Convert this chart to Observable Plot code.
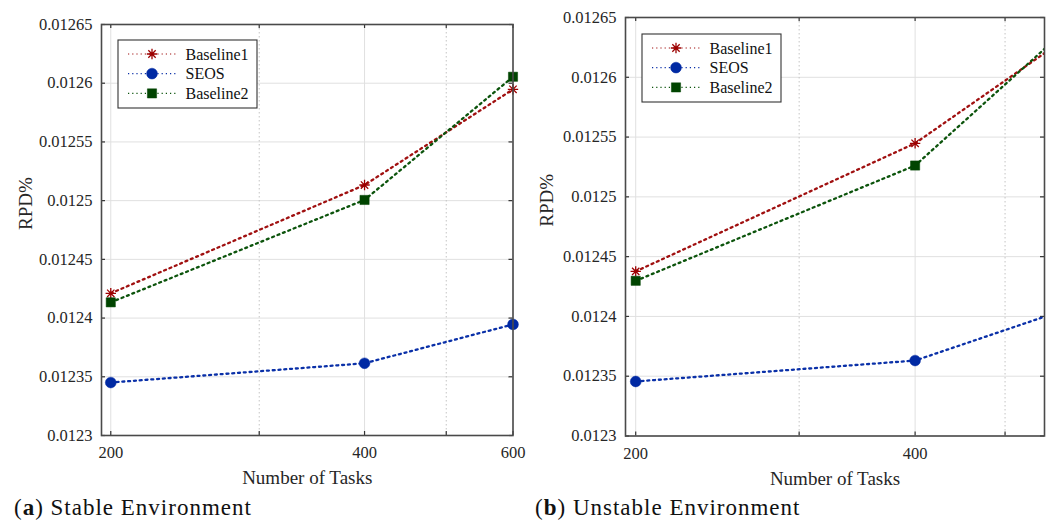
<!DOCTYPE html>
<html><head><meta charset="utf-8">
<script src="https://cdn.jsdelivr.net/npm/d3@7"></script>
<script src="https://cdn.jsdelivr.net/npm/@observablehq/plot@0.6"></script>
<style>
body{margin:0;background:#fff;}
#wrap{position:relative;width:1054px;height:524px;overflow:hidden;font-family:"Liberation Serif","Times New Roman",serif;background:#fff;}
.panel{position:absolute;top:0;}
.legend{position:absolute;}
.caption{position:absolute;font-size:23px;letter-spacing:1px;color:#111;line-height:23px;white-space:nowrap;}
</style></head>
<body><div id="wrap"></div>
<script>
// ---- data ----
const tasks = [200, 400, 600];
const seriesNames = ["Baseline1", "SEOS", "Baseline2"];
const stableBaseline1 = [0.0124211, 0.0125133, 0.0125948];
const stableSEOS      = [0.0123451, 0.0123615, 0.0123946];
const stableBaseline2 = [0.0124134, 0.0125006, 0.0126055];
const unstableBaseline1 = [0.0124377, 0.0125448, 0.0126400];
const unstableSEOS      = [0.0123456, 0.0123631, 0.0124094];
const unstableBaseline2 = [0.0124298, 0.0125262, 0.0126494];
const yTicks = [0.0123, 0.01235, 0.0124, 0.01245, 0.0125, 0.01255, 0.0126, 0.01265];
const xMajorTicks = [200, 400, 600];
const xMinorTicks = [300, 500];
const captionLetters = ["a", "b"];
const captionTexts = ["Stable Environment", "Unstable Environment"];
const xLabel = "Number of Tasks";
const yLabel = "RPD%";

// ---- styles ----
const colors = {Baseline1: "#9c0000", SEOS: "#0029a3", Baseline2: "#004400"};
const lineColors = {Baseline1: "#a01010", SEOS: "#0a30a8", Baseline2: "#0c540c"};
const asterisk8 = {
  draw(ctx, size) {
    const r = Math.sqrt(size / Math.PI);
    for (let k = 0; k < 4; k++) {
      const a = k * Math.PI / 4, dx = r * Math.cos(a), dy = r * Math.sin(a);
      ctx.moveTo(-dx, -dy); ctx.lineTo(dx, dy);
    }
  }
};
const symbols = {Baseline1: asterisk8, SEOS: "circle", Baseline2: "square"};
const fontStack = "'Liberation Serif', 'Times New Roman', serif";

const wrap = document.getElementById("wrap");

function makePanel(cfg) {
  const {values, xDomain, left, width, height, mt, mb, ml, mr, yLabelDx, legendPos, captionLeft, letter, caption} = cfg;
  const frameW = width - ml - mr, frameH = height - mt - mb;
  const inX = v => v >= xDomain[0] && v <= xDomain[1];
  const majors = xMajorTicks.filter(inX), minors = xMinorTicks.filter(inX);
  const allX = majors.concat(minors);
  const seriesMarks = [];
  seriesNames.forEach((name, si) => {
    const data = tasks.map((t, i) => ({x: t, y: values[si][i]}));
    seriesMarks.push(Plot.line(data, {x: "x", y: "y", stroke: lineColors[name], strokeWidth: 2.3, strokeDasharray: "2,3.8", clip: true}));
  });
  seriesNames.forEach((name, si) => {
    const data = tasks.map((t, i) => ({x: t, y: values[si][i]})).filter(d => inX(d.x));
    const isStroke = name === "Baseline1";
    seriesMarks.push(Plot.dot(data, {x: "x", y: "y", symbol: () => symbols[name], r: name === "SEOS" ? 5.4 : 5.2,
      fill: isStroke ? "none" : colors[name], stroke: colors[name], strokeWidth: isStroke ? 1.3 : 0.5}));
  });
  const chart = Plot.plot({
    width, height, marginTop: mt, marginBottom: mb, marginLeft: ml, marginRight: mr,
    style: {fontFamily: fontStack, fontSize: "16.5px", color: "#262626", background: "#fff", overflow: "visible"},
    x: {type: "log", domain: xDomain, ticks: majors, tickFormat: d => String(d), tickSize: 0, tickPadding: 11, label: null},
    y: {domain: [0.0123, 0.01265], ticks: yTicks, tickFormat: d => String(d), tickSize: 0, tickPadding: 9, label: null},
    symbol: {type: "identity"},
    marks: [
      Plot.ruleY(yTicks, {y: d => d, stroke: "#e0e0e0", strokeWidth: 1}),
      Plot.ruleX(majors, {x: d => d, stroke: "#e0e0e0", strokeWidth: 1}),
      Plot.ruleX(minors, {x: d => d, stroke: "#c4c4c4", strokeWidth: 1, strokeDasharray: "1.5,2.5"}),
      Plot.tickY(yTicks, {y: d => d, insetRight: frameW - 4, stroke: "#333", strokeWidth: 1.2}),
      Plot.tickY(yTicks, {y: d => d, insetLeft: frameW - 4, stroke: "#333", strokeWidth: 1.2}),
      Plot.tickX(allX, {x: d => d, insetTop: frameH - 4, stroke: "#333", strokeWidth: 1.2}),
      Plot.tickX(allX, {x: d => d, insetBottom: frameH - 4, stroke: "#333", strokeWidth: 1.2}),
      ...seriesMarks,
      Plot.frame({stroke: "#4a4a4a", strokeWidth: 1.6}),
      Plot.text([xLabel], {frameAnchor: "bottom", dy: 42.5, lineAnchor: "middle", fontSize: 19, fill: "#262626"}),
      Plot.text([yLabel], {frameAnchor: "left", dx: yLabelDx, rotate: -90, lineAnchor: "middle", fontSize: 19, fill: "#262626"})
    ]
  });
  const div = document.createElement("div");
  div.className = "panel";
  div.style.left = left + "px";
  div.style.width = width + "px";
  div.appendChild(chart);
  wrap.appendChild(div);

  // legend overlay
  const lw = 139, lh = 68, rows = [14, 33.6, 53.4];
  const lsvg = d3.create("svg").attr("class", "legend").attr("width", lw + 2).attr("height", lh + 2)
    .style("left", (left + legendPos[0] - 1) + "px").style("top", (legendPos[1] - 1) + "px");
  const g = lsvg.append("g").attr("transform", "translate(1,1)");
  g.append("rect").attr("width", lw).attr("height", lh).attr("fill", "#fff").attr("stroke", "#333").attr("stroke-width", 1.1);
  seriesNames.forEach((name, i) => {
    const y = rows[i];
    g.append("line").attr("x1", 10).attr("x2", 58).attr("y1", y).attr("y2", y)
      .attr("stroke", lineColors[name]).attr("stroke-width", 1.1).attr("stroke-dasharray", "1.2,3");
    const sym = name === "Baseline1" ? asterisk8 : name === "SEOS" ? d3.symbolCircle : d3.symbolSquare;
    const rr = name === "SEOS" ? 5.4 : 5.2;
    g.append("path").attr("d", d3.symbol(sym, Math.PI * rr * rr)()).attr("transform", `translate(34,${y})`)
      .attr("fill", name === "Baseline1" ? "none" : colors[name]).attr("stroke", colors[name])
      .attr("stroke-width", name === "Baseline1" ? 1.3 : 0.5);
    g.append("text").attr("x", 67.5).attr("y", y + 5.5).text(name)
      .attr("font-family", fontStack).attr("font-size", 16).attr("fill", "#111");
  });
  wrap.appendChild(lsvg.node());

  const cap = document.createElement("div");
  cap.className = "caption";
  cap.style.left = captionLeft + "px";
  cap.style.top = "496px";
  cap.innerHTML = `(<b>${letter}</b>) ${caption}`;
  wrap.appendChild(cap);
}

makePanel({
  values: [stableBaseline1, stableSEOS, stableBaseline2],
  xDomain: [195, 600], left: 0, width: 530, height: 490, mt: 24, mb: 55, ml: 101, mr: 17.5,
  yLabelDx: -75.5, legendPos: [118, 40], captionLeft: 14, letter: captionLetters[0], caption: captionTexts[0]
});
makePanel({
  values: [unstableBaseline1, unstableSEOS, unstableBaseline2],
  xDomain: [195, 551.4], left: 530, width: 524, height: 490, mt: 17, mb: 54.5, ml: 95, mr: 10,
  yLabelDx: -79, legendPos: [111.7, 34], captionLeft: 535, letter: captionLetters[1], caption: captionTexts[1]
});
</script>
</body></html>
